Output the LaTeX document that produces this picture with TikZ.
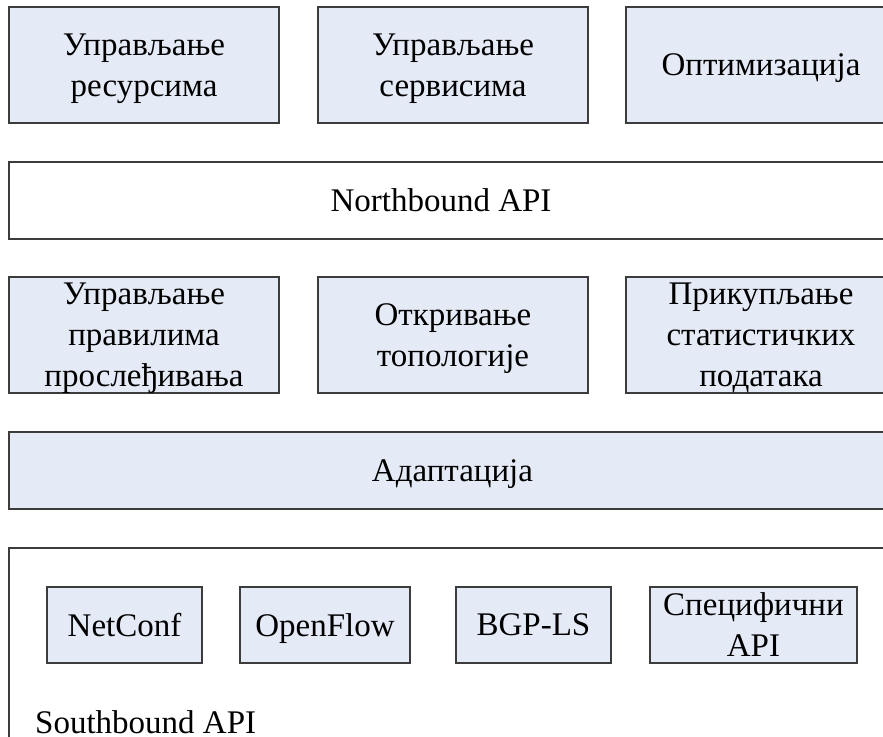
\documentclass[tikz,border=0pt]{standalone}
\usepackage{fontspec}
\setmainfont{Liberation Serif}
\definecolor{fillc}{HTML}{E5EBF6}
\definecolor{linec}{HTML}{3C3C3C}
\tikzset{
  blk/.style={draw=linec, fill=fillc, line width=1.3pt, rectangle, inner sep=0pt, align=center,
    text depth=0pt, font=\fontsize{33}{41}\selectfont},
  wblk/.style={blk, fill=white},
  lbl/.style={inner sep=0pt, align=center, text depth=0pt, font=\fontsize{33}{41}\selectfont}
}
\begin{document}
\begin{tikzpicture}[x=1pt,y=-1pt]
\useasboundingbox (0,0) rectangle (883,736);
\clip (0,0) rectangle (883,736);
\fill[white] (0,0) rectangle (883,736);
% top row
\node[blk, minimum width=270pt, minimum height=116pt] (ur) at (144,65) {Управљање\\ресурсима};
\node[blk, minimum width=270pt, minimum height=116pt] (us) at (453,65) {Управљање\\сервисима};
\node[blk, minimum width=270pt, minimum height=116pt] (op) at (761,65) {Оптимизација};
% northbound
\node[wblk, minimum width=887pt, minimum height=77pt] (nb) at (452.5,200.5) {};
\node[lbl] (nbt) at (441,200.5) {Northbound API};
% middle row
\node[blk, minimum width=270pt, minimum height=116pt] (up) at (144,335) {Управљање\\правилима\\прослеђивања};
\node[blk, minimum width=270pt, minimum height=116pt] (ot) at (453,335) {Откривање\\топологије};
\node[blk, minimum width=270pt, minimum height=116pt] (ps) at (761,335) {Прикупљање\\статистичких\\података};
% adaptation
\node[blk, minimum width=887pt, minimum height=77pt] (ad) at (452.5,470.5) {Адаптација};
% southbound
\node[wblk, minimum width=887pt, minimum height=202pt] (sb) at (452.5,649) {};
\node[blk, minimum width=155pt, minimum height=76pt] (nc) at (124.5,625) {NetConf};
\node[blk, minimum width=170pt, minimum height=76pt] (of) at (325,625) {OpenFlow};
\node[blk, minimum width=155pt, minimum height=76pt] (bgp) at (533.5,625) {BGP-LS};
\node[blk, minimum width=207pt, minimum height=76pt] (sp) at (753.5,625) {Специфични\\API};
\node[lbl, anchor=base west] (sbt) at (35,733) {Southbound API};
\end{tikzpicture}
\end{document}
